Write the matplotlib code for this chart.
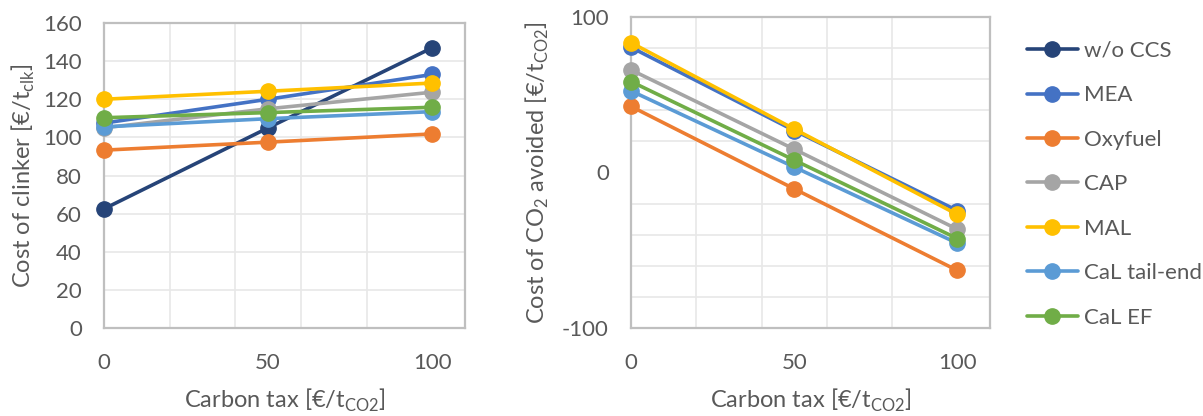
import matplotlib
matplotlib.use("Agg")
import matplotlib.pyplot as plt
from matplotlib.ticker import MultipleLocator, FixedLocator

plt.rcParams['font.family'] = ['Lato', 'DejaVu Sans']
plt.rcParams['axes.unicode_minus'] = False

carbon_tax = [0, 50, 100]
series_names = ["w/o CCS", "MEA", "Oxyfuel", "CAP", "MAL", "CaL tail-end", "CaL EF"]
colors = ["#264478", "#4472C4", "#ED7D31", "#A5A5A5", "#FFC000", "#5B9BD5", "#70AD47"]

clinker_wo_ccs = [62.5, 105.0, 147.0]
clinker_mea = [107.5, 120.0, 133.0]
clinker_oxyfuel = [93.3, 97.5, 101.8]
clinker_cap = [105.0, 115.0, 123.7]
clinker_mal = [120.0, 124.2, 128.5]
clinker_cal_tail = [105.5, 109.8, 113.5]
clinker_cal_ef = [110.3, 113.0, 115.8]

avoided_mea = [80.5, 27.0, -24.5]
avoided_oxyfuel = [42.5, -10.5, -63.0]
avoided_cap = [66.0, 15.0, -36.5]
avoided_mal = [83.5, 28.0, -27.0]
avoided_cal_tail = [52.5, 3.5, -45.5]
avoided_cal_ef = [58.5, 8.0, -42.5]

clinker = [clinker_wo_ccs, clinker_mea, clinker_oxyfuel, clinker_cap,
           clinker_mal, clinker_cal_tail, clinker_cal_ef]
avoided = [None, avoided_mea, avoided_oxyfuel, avoided_cap,
           avoided_mal, avoided_cal_tail, avoided_cal_ef]

W, H = 1203, 416
fig = plt.figure(figsize=(W / 100, H / 100), dpi=100)

text_color = "#595959"
border_color = "#BFBFBF"
grid_color = "#E8E8E8"


def px_axes(x0, y0, x1, y1):
    return fig.add_axes([x0 / W, (H - y1) / H, (x1 - x0) / W, (y1 - y0) / H])


def style(ax):
    for s in ax.spines.values():
        s.set_color(border_color)
        s.set_linewidth(1.6)
    ax.tick_params(axis='both', length=0, labelsize=16, colors=text_color)
    ax.tick_params(axis='x', pad=18)
    ax.tick_params(axis='y', pad=16)
    ax.set_xlim(0, 110)
    ax.xaxis.set_major_locator(FixedLocator(carbon_tax))
    ax.xaxis.set_minor_locator(MultipleLocator(20))
    ax.grid(True, which='minor', axis='x', color=grid_color, linewidth=1.2)
    ax.tick_params(which='minor', length=0)
    ax.set_axisbelow(True)
    ax.set_xlabel(r"Carbon tax [€/t$_{\mathregular{CO2}}$]", fontsize=17,
                  color=text_color, labelpad=10)


lw = 2.6
ms = 11

# Left chart
ax1 = px_axes(104, 23, 465, 328)
style(ax1)
for name, c, ys in zip(series_names, colors, clinker):
    ax1.plot(carbon_tax, ys, color=c, lw=lw, marker='o', ms=ms, label=name,
             solid_capstyle='round', clip_on=False, zorder=3)
ax1.set_ylim(0, 160)
ax1.yaxis.set_major_locator(MultipleLocator(20))
ax1.grid(True, which='major', axis='y', color=grid_color, linewidth=1.2)
ax1.set_ylabel(r"Cost of clinker [€/t$_{\mathregular{clk}}$]", fontsize=17,
               color=text_color, labelpad=4)

# Right chart
ax2 = px_axes(631, 17, 990, 328)
style(ax2)
for name, c, ys in zip(series_names, colors, avoided):
    if ys is None:
        continue
    ax2.plot(carbon_tax, ys, color=c, lw=lw, marker='o', ms=ms,
             solid_capstyle='round', clip_on=False, zorder=3)
ax2.set_ylim(-100, 100)
ax2.yaxis.set_major_locator(FixedLocator([-100, 0, 100]))
ax2.yaxis.set_minor_locator(MultipleLocator(20))
ax2.grid(True, which='minor', axis='y', color=grid_color, linewidth=1.2)
ax2.set_ylabel(r"Cost of CO$_{\mathregular{2}}$ avoided [€/t$_{\mathregular{CO2}}$]",
               fontsize=17, color=text_color, labelpad=8)

# Legend
handles, labels = ax1.get_legend_handles_labels()
leg = fig.legend(handles, labels, loc='upper left',
                 bbox_to_anchor=(1018 / W, 1 - 32 / H), frameon=False,
                 fontsize=16, labelcolor=text_color, handlelength=2.3,
                 handletextpad=0.25, labelspacing=1.1, borderaxespad=0)

fig.savefig("out.png", dpi=100)
